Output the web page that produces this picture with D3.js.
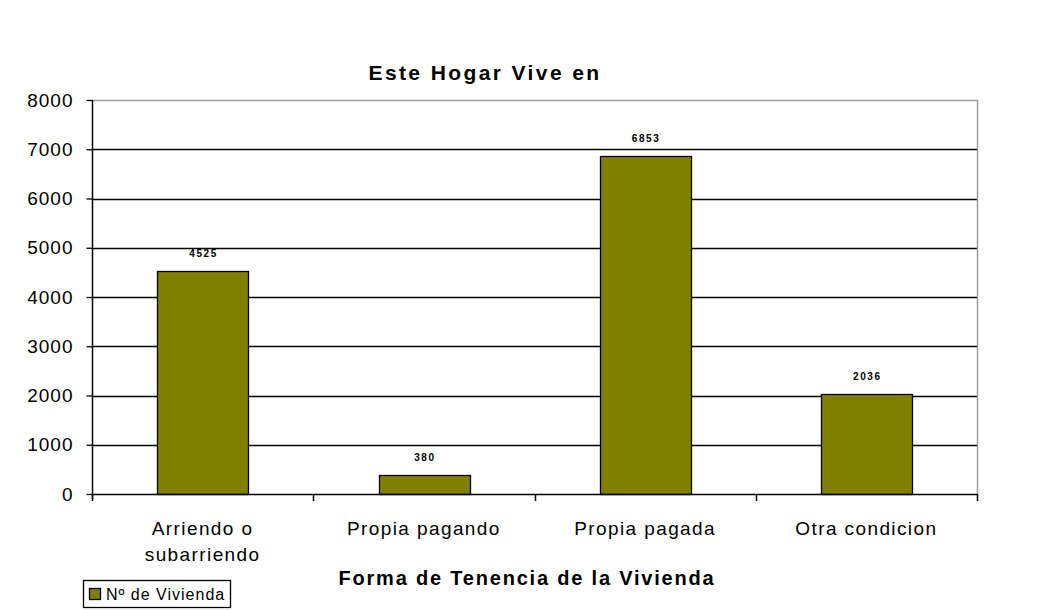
<!DOCTYPE html>
<html><head><meta charset="utf-8">
<script src="https://cdn.jsdelivr.net/npm/d3@7"></script>
<style>
html,body{margin:0;padding:0;background:#fff;}
svg{display:block;font-family:"Liberation Sans",Arial,sans-serif;}
</style></head>
<body><svg id="c" width="1051" height="610"></svg>
<script>
const categories = [["Arriendo o","subarriendo"],["Propia pagando"],["Propia pagada"],["Otra condicion"]];
const categoryKeys = ["Arriendo o subarriendo","Propia pagando","Propia pagada","Otra condicion"];
const values = [4525, 380, 6853, 2036];
const yTicks = [0,1000,2000,3000,4000,5000,6000,7000,8000];
const seriesName = "Nº de Vivienda";
const title = "Este Hogar Vive en";
const xTitle = "Forma de Tenencia de la Vivienda";

const svg = d3.select("#c");
const L=92,R=977,T=100,B=494;
const y = d3.scaleLinear().domain([0,8000]).range([B,T]);
const x = d3.scaleBand().domain(categoryKeys).range([L,R]).padding(0);
const bw = x.bandwidth();
const olive = "#808000";

// gridlines
svg.append("g").selectAll("line").data(yTicks.filter(t=>t>0&&t<8000)).join("line")
  .attr("x1",L).attr("x2",R).attr("y1",d=>Math.round(y(d))+0.5).attr("y2",d=>Math.round(y(d))+0.5)
  .attr("stroke","#000").attr("stroke-width",1.3);
// top & right border (gray)
svg.append("line").attr("x1",L).attr("x2",R+0.5).attr("y1",T+0.5).attr("y2",T+0.5).attr("stroke","#9a9a9a").attr("stroke-width",1.5);
svg.append("line").attr("x1",R+0.5).attr("x2",R+0.5).attr("y1",T).attr("y2",B).attr("stroke","#9a9a9a").attr("stroke-width",1.5);

// bars
svg.append("g").selectAll("rect").data(values).join("rect")
  .attr("x",(d,i)=>Math.round(x(categoryKeys[i])+bw*0.295)+0.5)
  .attr("y",d=>Math.round(y(d))+0.5)
  .attr("width",Math.round(bw*0.41))
  .attr("height",d=>Math.round(B-y(d)))
  .attr("fill",olive).attr("stroke","#000").attr("stroke-width",1.3);

// data labels
svg.append("g").selectAll("text").data(values).join("text")
  .attr("x",(d,i)=>x(categoryKeys[i])+bw/2+1)
  .attr("y",d=>y(d)-14)
  .attr("text-anchor","middle")
  .attr("font-size",10).attr("font-weight","bold").attr("letter-spacing",1.6)
  .attr("fill","#000").text(d=>d);

// y axis
const yAxis = d3.axisLeft(y).tickValues(yTicks).tickSize(6).tickPadding(13).tickFormat(d3.format("d"));
const gy = svg.append("g").attr("transform",`translate(${L+0.5},0)`).call(yAxis);
gy.select(".domain").attr("stroke","#000").attr("stroke-width",1.5).attr("d",`M0,${T}V${B+5}`);
gy.selectAll(".tick line").attr("stroke","#000").attr("stroke-width",1.3);
gy.selectAll(".tick text").attr("font-size",19).attr("letter-spacing",1).attr("fill","#000")
  .attr("font-family","Liberation Sans, Arial, sans-serif");

// x axis line and ticks at band boundaries
svg.append("line").attr("x1",L).attr("x2",R+1).attr("y1",B+0.5).attr("y2",B+0.5).attr("stroke","#000").attr("stroke-width",1.5);
const bounds = categoryKeys.map(k=>x(k)).concat([R]);
svg.append("g").selectAll("line").data(bounds).join("line")
  .attr("x1",d=>Math.round(d)+0.5).attr("x2",d=>Math.round(d)+0.5)
  .attr("y1",B).attr("y2",B+7).attr("stroke","#000").attr("stroke-width",1.5);

// category labels
const cl = svg.append("g").selectAll("text").data(categories).join("text")
  .attr("x",(d,i)=>x(categoryKeys[i])+bw/2)
  .attr("y",535)
  .attr("text-anchor","middle").attr("font-size",19).attr("letter-spacing",1.4).attr("fill","#000");
cl.selectAll("tspan").data(d=>d).join("tspan")
  .attr("x",function(){return this.parentNode.getAttribute("x");})
  .attr("dy",(d,i)=>i===0?0:26).text(d=>d);

// titles
svg.append("text").attr("x",485).attr("y",80).attr("text-anchor","middle")
  .attr("font-size",21).attr("font-weight","bold").attr("letter-spacing",2.4).text(title);
svg.append("text").attr("x",527).attr("y",585).attr("text-anchor","middle")
  .attr("font-size",20).attr("font-weight","bold").attr("letter-spacing",1.8).text(xTitle);

// legend
const lg = svg.append("g");
lg.append("rect").attr("x",83.5).attr("y",580.5).attr("width",147).attr("height",27).attr("fill","#fff").attr("stroke","#000").attr("stroke-width",1.3);
lg.append("rect").attr("x",89.5).attr("y",588.5).attr("width",11).attr("height",11).attr("fill",olive).attr("stroke","#000").attr("stroke-width",1.3);
lg.append("text").attr("x",106).attr("y",600).attr("font-size",16).attr("letter-spacing",1).text(seriesName);
</script></body></html>
